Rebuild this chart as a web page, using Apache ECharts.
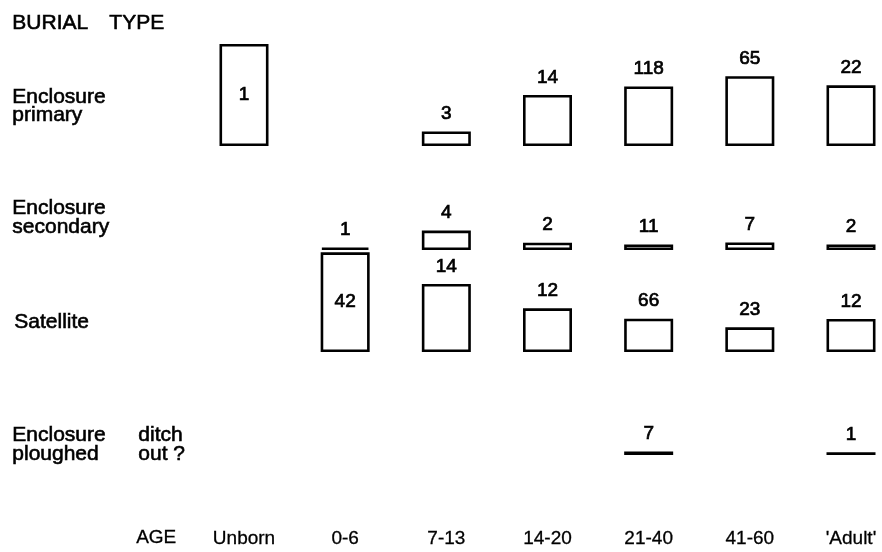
<!DOCTYPE html>
<html>
<head>
<meta charset="utf-8">
<script src="https://cdn.jsdelivr.net/npm/echarts@6/dist/echarts.min.js"></script>
<style>
html,body{margin:0;padding:0;background:#fff;}
#chart{width:882px;height:552px;}
</style>
</head>
<body>
<div id="chart"></div>
<script>
// ---- data ----
const ageGroups = ['Unborn', '0-6', '7-13', '14-20', '21-40', '41-60', "'Adult'"];
const burialTypes = ['Enclosure primary', 'Enclosure secondary', 'Satellite', 'Enclosure ditch ploughed out ?'];
const enclosurePrimary   = [1, 0, 3, 14, 118, 65, 22];
const enclosureSecondary = [0, 1, 4, 2, 11, 7, 2];
const satellite          = [0, 42, 14, 12, 66, 23, 12];
const ditchPloughedOut   = [0, 0, 0, 0, 7, 0, 1];

const rows = [enclosurePrimary, enclosureSecondary, satellite, ditchPloughedOut];
// column totals -> bar height is the share (%) of each age group
const totals = ageGroups.map((_, i) => rows.reduce((s, r) => s + r[i], 0));

const FONT = '"Liberation Sans", Arial, sans-serif';
const INK = '#000';
const gridBottoms = [146, 250, 352, 455];
const rowH = 102;

const grids = [], xAxes = [], yAxes = [], series = [];
rows.forEach((counts, k) => {
  grids.push({left: 244, right: 31, top: gridBottoms[k] - rowH, height: rowH});
  xAxes.push({
    type: 'category', gridIndex: k, data: ageGroups, boundaryGap: false,
    axisLine: {show: false}, axisTick: {show: false},
    axisLabel: k === rows.length - 1 ? {
      show: true, margin: 74, fontFamily: FONT, fontSize: 19, color: INK,
      textBorderColor: INK, textBorderWidth: 0.3
    } : {show: false},
    splitLine: {show: false}
  });
  yAxes.push({type: 'value', gridIndex: k, min: 0, max: 100, show: false});
  series.push({
    type: 'bar', name: burialTypes[k], xAxisIndex: k, yAxisIndex: k,
    barWidth: 49, clip: false, animation: false,
    data: counts.map((c, i) => {
      if (!c) return null;
      const pct = c / totals[i] * 100;
      return {
        value: pct, count: c,
        label: pct > 90 ? {position: 'inside'} : {position: 'top', distance: 8}
      };
    }),
    itemStyle: {color: '#fff', borderColor: INK, borderWidth: 2.6},
    label: {
      show: true, fontFamily: FONT, fontSize: 19, color: INK,
      textBorderColor: INK, textBorderWidth: 0.7,
      formatter: p => String(p.data.count)
    }
  });
});

const txt = (x, y, text, lh, fs, sw) => ({
  type: 'text', left: x, top: y,
  style: {
    text: text, font: (fs || 21) + 'px "Liberation Sans", Arial, sans-serif',
    fill: INK, stroke: INK, lineWidth: sw == null ? 0.6 : sw, lineHeight: lh || 20
  }
});

const option = {
  backgroundColor: '#fff',
  animation: false,
  grid: grids, xAxis: xAxes, yAxis: yAxes, series: series,
  graphic: [
    txt(12, 12, 'BURIAL'),
    txt(109, 12, 'TYPE'),
    txt(12, 86, 'Enclosure\nprimary', 18),
    txt(12, 197, 'Enclosure\nsecondary', 19),
    txt(14, 311, 'Satellite'),
    txt(12, 424, 'Enclosure\nploughed', 19),
    txt(138, 424, 'ditch\nout ?', 19),
    txt(136, 528, 'AGE', 19, 19, 0.3)
  ]
};

const chart = echarts.init(document.getElementById('chart'), null, {renderer: 'canvas'});
chart.setOption(option);
</script>
</body>
</html>
